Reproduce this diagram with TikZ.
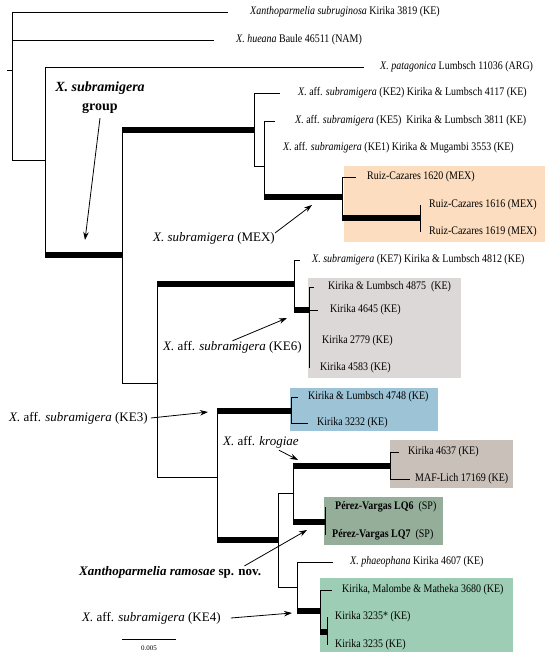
\documentclass[tikz,border=0pt]{standalone}
\usepackage{fontspec}
\setmainfont{Liberation Serif}
\newfontfamily\tipfont[FakeStretch=0.86]{Liberation Serif}
\usetikzlibrary{positioning,arrows.meta}
\definecolor{mexfill}{RGB}{252,221,191}
\definecolor{kesixfill}{RGB}{221,216,216}
\definecolor{kethreefill}{RGB}{157,195,214}
\definecolor{krogfill}{RGB}{201,193,185}
\definecolor{ramofill}{RGB}{148,174,154}
\definecolor{kefourfill}{RGB}{157,205,180}
\begin{document}
\begin{tikzpicture}[x=1pt, y=-1pt,
	br/.style={line width=.8pt},
	fat/.style={line width=6pt},
	tip/.style={anchor=west, inner sep=0pt, font=\tipfont\fontsize{11.6}{13}\selectfont},
	note/.style={inner sep=0pt, font=\fontsize{13}{15}\selectfont},
	pointer/.style={line width=.8pt, -{Stealth[length=8pt,width=5.5pt]}}]
\useasboundingbox (0,0) rectangle (550,658);
%boxes
\fill[mexfill] (344,166) rectangle (545,242);
\fill[kesixfill] (308,278) rectangle (461,378);
\fill[kethreefill] (290,388) rectangle (438,431);
\fill[krogfill] (390,440) rectangle (513,488);
\fill[ramofill] (324,497) rectangle (443,545);
\fill[kefourfill] (320,578) rectangle (513,652);
%inner nodes
\foreach \n/\x/\y in {
	root/12/70,
	ing/45/160,
	grp/122/255,
	keA/254/130,
	keB/264/166,
	mex/342/197,
	mexN/420/218,
	keC/157/383,
	keD/294/284,
	keE/309/310,
	keF/217/477,
	blue/291/411,
	keI/278/540,
	keH/293/493,
	krog/390/466,
	ramo/325/522,
	keJ/297/587,
	keQ/320/611,
	keR/327/632
}
\coordinate (\n) at (\x,\y);
\coordinate (stub) at (7,70);
%tips
\foreach \n/\tx/\lx/\y/\txt in {
	t1/228/250/12/{\textit{Xanthoparmelia subruginosa} Kirika 3819 (KE)},
	t2/214/236/40/{\textit{X. hueana} Baule 46511 (NAM)},
	t3/364/380/67/{\textit{X. patagonica} Lumbsch 11036 (ARG)},
	t4/280/298/93/{\textit{X.} aff. \textit{subramigera} (KE2) Kirika \& Lumbsch 4117 (KE)},
	t5/275/295/121/{\textit{X.} aff. \textit{subramigera} (KE5)\ \ Kirika \& Lumbsch 3811 (KE)},
	t6/264/283/148/{\textit{X.} aff. \textit{subramigera} (KE1) Kirika \& Mugambi 3553 (KE)},
	t7/356/367/177/{Ruiz-Cazares 1620 (MEX)},
	t8/420/429/205/{Ruiz-Cazares 1616 (MEX)},
	t9/420/429/232/{Ruiz-Cazares 1619 (MEX)},
	t10/300/312/260/{\textit{X. subramigera} (KE7) Kirika \& Lumbsch 4812 (KE)},
	t11/314/328/287/{Kirika \& Lumbsch 4875\ \ (KE)},
	t12/318/330/310/{Kirika 4645 (KE)},
	t13/309/322/341/{Kirika 2779 (KE)},
	t14/309/320/368/{Kirika 4583 (KE)},
	t15/298/308/397/{Kirika \& Lumbsch 4748 (KE)},
	t16/308/317/423/{Kirika 3232 (KE)},
	t17/399/408/452/{Kirika 4637 (KE)},
	t18/410/415/479/{MAF-Lich 17169 (KE)},
	t19/325/335/507/{\textbf{Pérez-Vargas LQ6}\ \ (SP)},
	t20/325/332/535/{\textbf{Pérez-Vargas LQ7}\ \ (SP)},
	t21/333/350/562/{\textit{X. phaeophana} Kirika 4607 (KE)},
	t22/332/342/590/{Kirika, Malombe \& Matheka 3680 (KE)},
	t23/327/335/617/{Kirika 3235* (KE)},
	t24/327/335/645/{Kirika 3235 (KE)}
}
{\coordinate (\n) at (\tx,\y);
\node[tip] (\n lab) at (\lx,\y) {\txt};}
%branches
\draw[br] (stub) -- (root);
\foreach \p/\c in {root/t1, root/t2, root/ing, ing/t3, grp/keC,
	keA/t4, keA/keB, keB/t5, keB/t6, mex/t7, mexN/t8, mexN/t9,
	keC/keF, keD/t10, keE/t11, keE/t12, keE/t13, keE/t14,
	blue/t15, blue/t16, keI/keH, keI/keJ, krog/t17, krog/t18,
	ramo/t19, ramo/t20, keJ/t21, keQ/t22, keR/t23, keR/t24}
\draw[br] (\p) |- (\c);
\foreach \p/\c in {ing/grp, grp/keA, keB/mex, mex/mexN, keC/keD, keD/keE,
	keF/blue, keF/keI, keH/krog, keH/ramo, keJ/keQ, keQ/keR}
{\draw[br] (\p) |- (\c);
\draw[fat] (\p |- \c) -- (\c);}
%labels
\node[inner sep=0pt, align=center, font=\fontsize{14}{19}\selectfont\bfseries] (grplab) at (100,98)
	{\textit{X. subramigera}\\group};
\node[note, anchor=east] (mexlab) at (275,238) {\textit{X. subramigera} (MEX)};
\node[note, anchor=west] (kesixlab) at (163,347) {\textit{X.} aff. \textit{subramigera} (KE6)};
\node[note, anchor=west] (kethreelab) at (9,418) {\textit{X.} aff. \textit{subramigera} (KE3)};
\node[note, anchor=west] (kroglab) at (223,442) {\textit{X.} aff. \textit{krogiae}};
\node[note, anchor=west, font=\fontsize{13}{15}\selectfont\bfseries] (ramolab) at (79,572)
	{\textit{Xanthoparmelia ramosae} sp. nov.};
\node[note, anchor=west] (kefourlab) at (82,618) {\textit{X.} aff. \textit{subramigera} (KE4)};
%arrows
\coordinate (grptip) at (85,240);
\coordinate (mextip) at (312,205);
\coordinate (kesixtip) at (287,318);
\coordinate (kethreetip) at (208,412);
\coordinate (krogtip) at (298,460);
\coordinate (ramotip) at (307,530);
\coordinate (kefourtip) at (292,613);
\draw[pointer] ([yshift=-4pt]grplab.south) -- (grptip);
\draw[pointer] ([yshift=5pt]mexlab.east) -- (mextip);
\draw[pointer] (kesixlab.north) -- (kesixtip);
\draw[pointer] ([xshift=3pt]kethreelab.east) -- (kethreetip);
\draw[pointer] ([xshift=18pt,yshift=-2pt]kroglab.south) -- (krogtip);
\draw[pointer] ([xshift=-17pt]ramolab.north east) -- (ramotip);
\draw[pointer] ([xshift=10pt]kefourlab.east) -- (kefourtip);
%scale
\coordinate (sbl) at (122,639);
\coordinate (sbr) at (176,639);
\draw[br] (sbl) -- (sbr) node[midway, below=6pt, inner sep=0pt, font=\fontsize{7}{8}\selectfont] (sblab) {0.005};
\end{tikzpicture}
\end{document}
